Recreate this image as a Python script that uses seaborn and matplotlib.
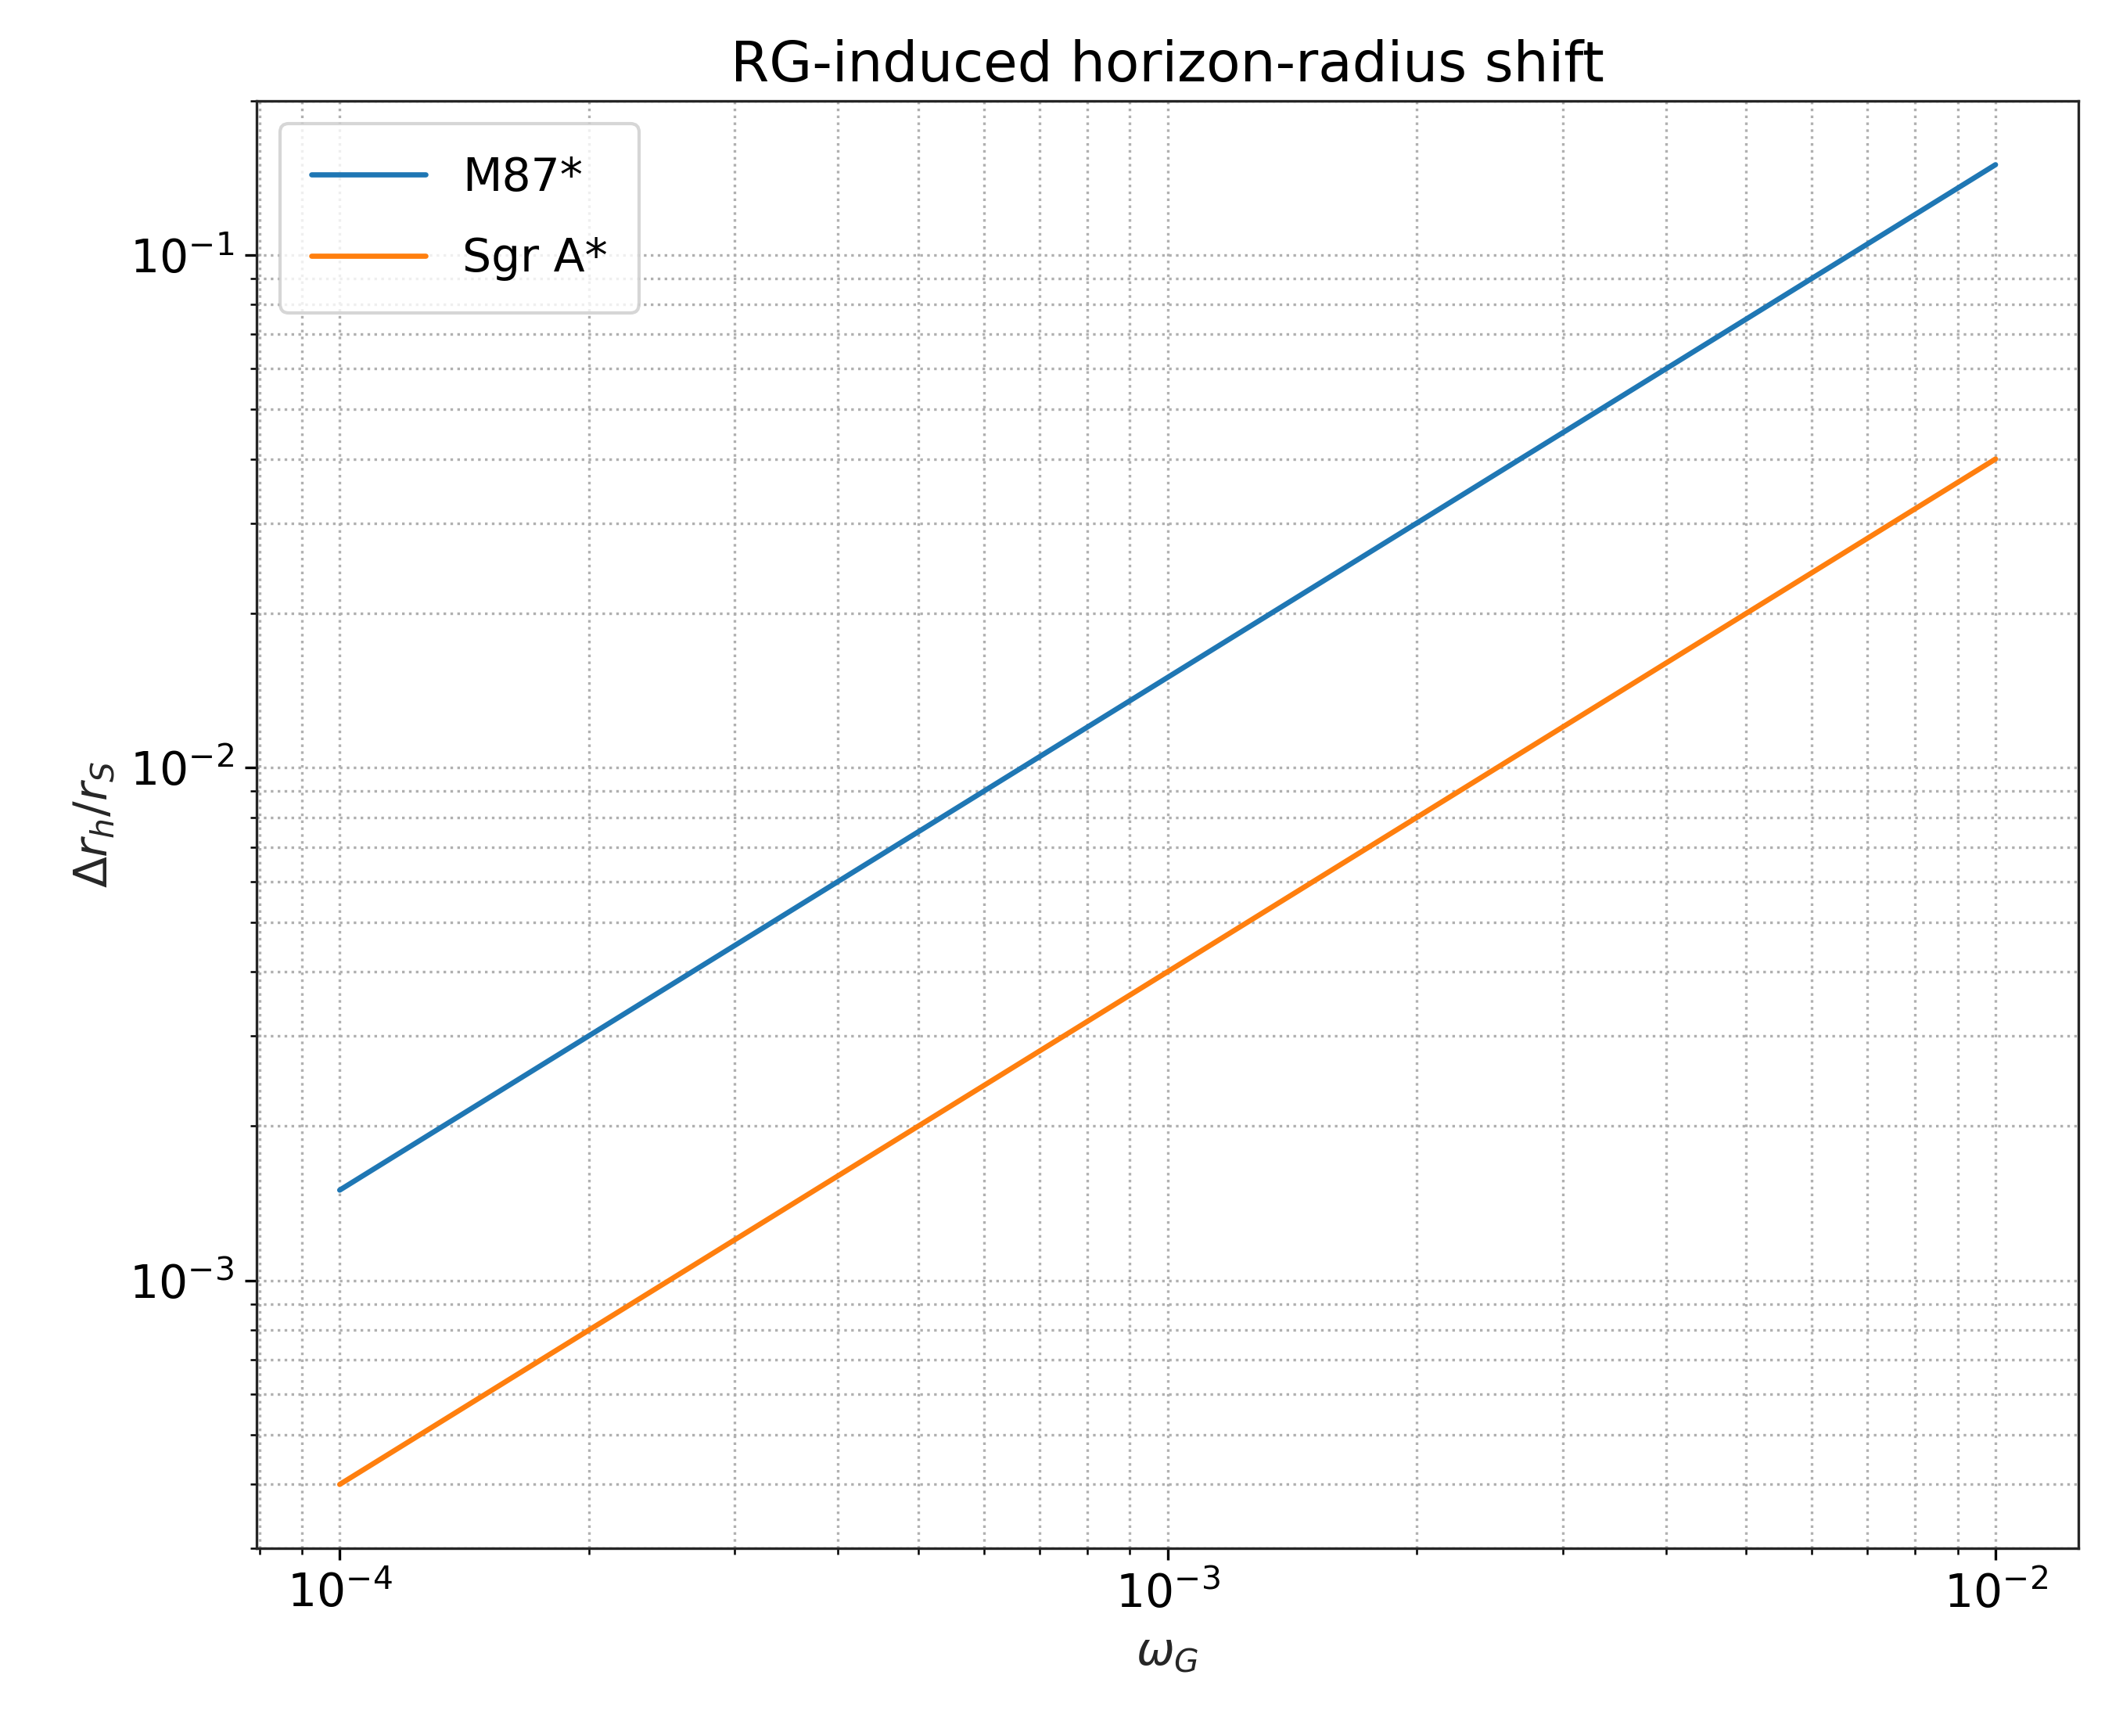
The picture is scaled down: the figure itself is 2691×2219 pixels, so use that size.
import matplotlib
matplotlib.use("Agg")
import matplotlib.pyplot as plt
import seaborn as sns
import pandas as pd

omega = [1e-4, 1e-3, 1e-2]
m87 = [1.5e-3, 1.5e-2, 1.5e-1]
sgr = [4e-4, 4e-3, 4e-2]

sns.set_style("ticks")
plt.rcParams['font.family'] = ['DejaVu Sans']
plt.rcParams['text.color'] = 'black'
plt.rcParams['xtick.color'] = 'black'
plt.rcParams['ytick.color'] = 'black'
df = pd.DataFrame({"w": omega * 2, "v": m87 + sgr,
                   "src": ["M87*"] * 3 + ["Sgr A*"] * 3})

fig, ax = plt.subplots(figsize=(8.973, 7.397), dpi=300)
sns.lineplot(data=df, x="w", y="v", hue="src", palette=["#1f77b4", "#ff7f0e"],
             ax=ax, linewidth=1.6)
ax.set_xscale("log"); ax.set_yscale("log")
ax.set_ylim(3.0e-4, 0.2)
ax.grid(True, which="both", linestyle=":", color="#b0b0b0", linewidth=0.8)
ax.set_xlabel(r"$\omega_G$", fontsize=14)
ax.set_ylabel(r"$\Delta r_h / r_S$", fontsize=14)
ax.set_title("RG-induced horizon-radius shift", fontsize=17)
ax.tick_params(labelsize=14)
ax.legend(title=None, fontsize=14, loc="upper left", handlelength=2.5,
          borderpad=0.7, labelspacing=0.8)
fig.subplots_adjust(left=0.122, right=0.987, top=0.942, bottom=0.108)
fig.savefig("out.png")
